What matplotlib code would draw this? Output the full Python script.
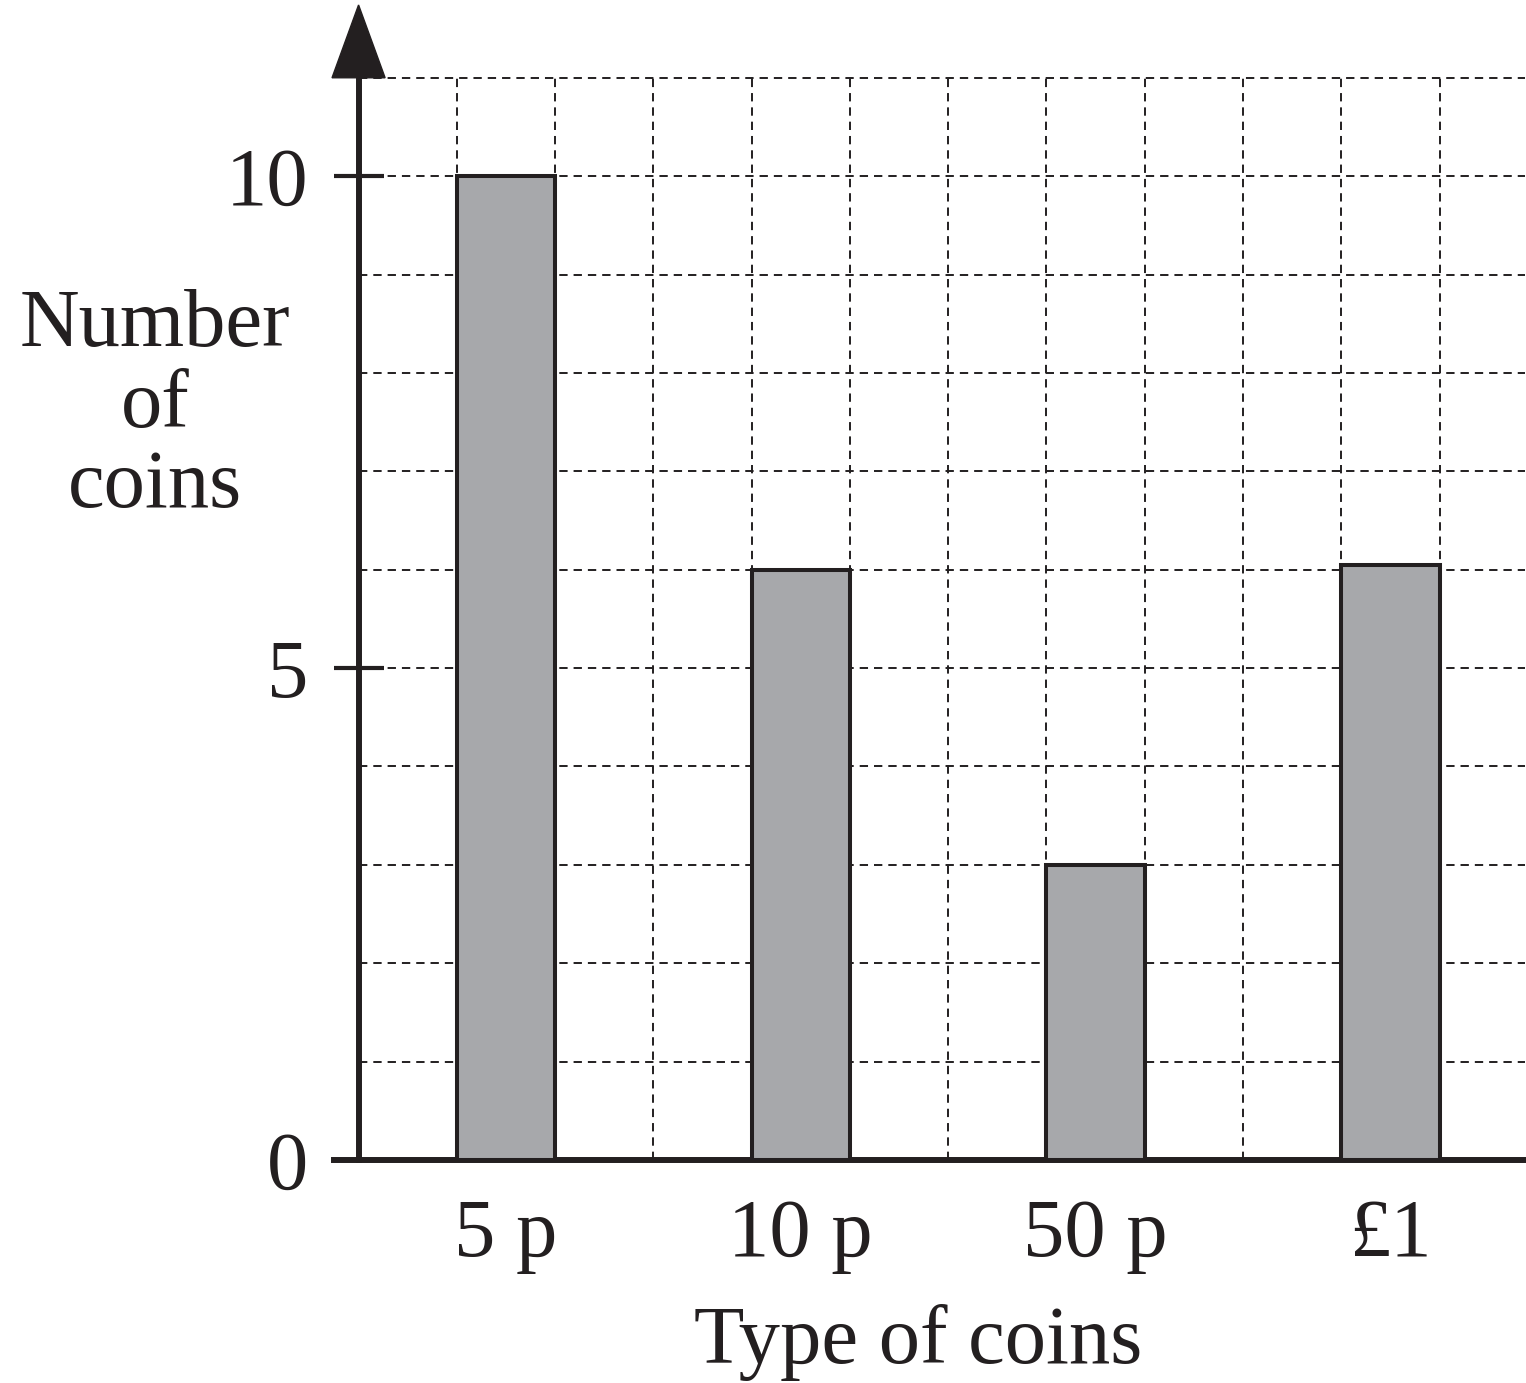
import matplotlib.pyplot as plt
import numpy as np

plt.rcParams['font.family'] = ['Liberation Serif', 'DejaVu Serif']
plt.rcParams['lines.scale_dashes'] = False

# coin counts
coin_types = ['5 p', '10 p', '50 p', '£1']
counts = [10, 6, 3, 6.05]
y_ticks = [0, 5, 10]

W, H = 1526, 1383
FS = 59.5
INK = '#231f20'
fig = plt.figure(figsize=(W / 100, H / 100), dpi=100)

x_min, x_max = -0.25, 11.87
y_max = 11.76
ax = fig.add_axes([334 / W, (H - 1160) / H, (1525 - 334) / W, (1160 - 3) / H])
ax.set_xlim(x_min, x_max)
ax.set_ylim(0, y_max)

# bars sit on whole grid squares, one square wide, two squares apart
centers = np.arange(len(coin_types)) * 3 + 1.5
ax.bar(centers, counts, width=1.0, color='#a7a8ab', edgecolor=INK,
       linewidth=2.9, zorder=3)

# dashed square grid
dash = (0, (6, 4.3))
ax.hlines(np.arange(1, 12), 0, x_max, colors=INK, linewidth=1.4,
          linestyles=[dash], zorder=1)
ax.vlines(np.arange(1, 12), 0, 11, colors=INK, linewidth=1.4,
          linestyles=[dash], zorder=1)

for side in ['top', 'right']:
    ax.spines[side].set_visible(False)
ax.spines['left'].set_position(('data', 0))
ax.spines['left'].set_bounds(0, 11)
for side in ['left', 'bottom']:
    ax.spines[side].set_linewidth(4.3)
    ax.spines[side].set_color(INK)

# arrow head on the vertical axis
ax.fill([-0.27, 0.27, 0.0], [11, 11, 11.74], color=INK, clip_on=False,
        zorder=5)

ax.set_yticks(y_ticks)
ax.set_yticklabels([str(v) for v in y_ticks])
ax.tick_params(axis='y', direction='inout', length=36, width=3,
               color=INK, labelcolor=INK, labelsize=FS, pad=18)

ax.set_xticks(centers)
ax.set_xticklabels(coin_types)
ax.tick_params(axis='x', length=0, labelsize=FS, labelcolor=INK, pad=28)


def fig_text(x, y, s):
    fig.text(x / W, 1 - y / H, s, ha='center', va='baseline', fontsize=FS,
             color=INK)


for line, base in zip(['Number', 'of', 'coins'], [346, 427, 507]):
    fig_text(155, base, line)
fig_text(918, 1363, 'Type of coins')

fig.savefig('out.png', dpi=100, facecolor='white')
